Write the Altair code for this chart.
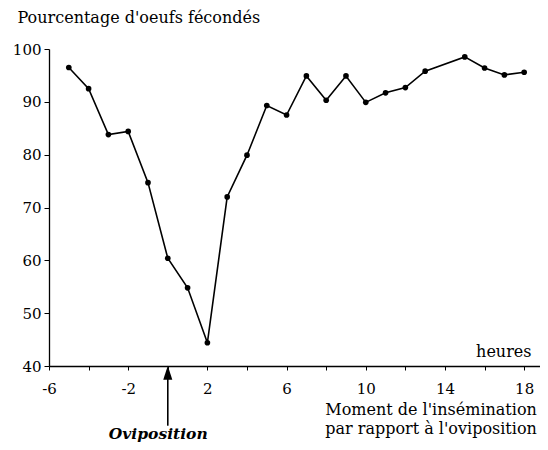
import altair as alt
import pandas as pd

hours = [-5, -4, -3, -2, -1, 0, 1, 2, 3, 4, 5, 6, 7, 8, 9, 10, 11, 12, 13, 15, 16, 17, 18]
pct = [96.5, 92.5, 83.8, 84.4, 74.7, 60.4, 54.8, 44.4, 72.0, 79.9, 89.3, 87.5,
       94.9, 90.3, 94.9, 89.9, 91.7, 92.7, 95.8, 98.5, 96.4, 95.1, 95.6]
x_ticks = list(range(-6, 19, 2))
y_ticks = [40, 50, 60, 70, 80, 90, 100]

FONT = "DejaVu Serif"
df = pd.DataFrame({"h": hours, "p": pct})

xs = alt.Scale(domain=[-6, 18.8], nice=False, zero=False)
ys = alt.Scale(domain=[40, 100], nice=False, zero=False)

base = alt.Chart(df)
line = base.mark_line(color="black", strokeWidth=1.6).encode(
    x=alt.X("h:Q", scale=xs, axis=alt.Axis(
        values=x_ticks, labelExpr="(datum.value + 6) % 4 == 0 ? toString(datum.value) : ''",
        title="heures", titleAngle=0, titleAlign="right", titleX=482, titleY=-10,
        titleBaseline="alphabetic", titleFontWeight="normal", titleFontSize=16,
        grid=False, domainColor="black", domainWidth=1.3, tickColor="black", tickSize=4,
        labelFontSize=15, labelColor="black", labelPadding=11, labelFlush=False)),
    y=alt.Y("p:Q", scale=ys, axis=alt.Axis(
        values=y_ticks, title="Pourcentage d'oeufs fécondés", titleAngle=0,
        titleAlign="left", titleX=-32, titleY=-27, titleBaseline="alphabetic",
        titleFontWeight="normal", titleFontSize=16,
        grid=False, domainColor="black", domainWidth=1.3, tickColor="black", tickSize=5,
        labelFontSize=15, labelColor="black", labelPadding=3)),
)
pts = base.mark_point(filled=True, color="black", size=32, opacity=1).encode(
    x=alt.X("h:Q", scale=xs), y=alt.Y("p:Q", scale=ys))

arrow_df = pd.DataFrame({"x": [0], "y1": [28.7], "y2": [38.5]})
shaft = alt.Chart(arrow_df).mark_rule(color="black", strokeWidth=1.6, clip=False).encode(
    x=alt.X("x:Q", scale=xs), y=alt.Y("y1:Q", scale=ys), y2="y2:Q")
head = alt.Chart(arrow_df).mark_point(
    shape="M0,-1L0.65,1L-0.65,1Z", filled=True, color="black", opacity=1,
    size=196, clip=False).encode(
    x=alt.X("x:Q", scale=xs), y=alt.datum(38.7, scale=ys))

ovi = alt.Chart(pd.DataFrame({"x": [-0.48], "y": [26.25], "t": ["Oviposition"]})).mark_text(
    font=FONT, fontSize=15.5, fontStyle="italic", fontWeight="bold", color="black",
    align="center", baseline="alphabetic", clip=False).encode(
    x=alt.X("x:Q", scale=xs), y=alt.Y("y:Q", scale=ys), text="t:N")

notes = alt.Chart(pd.DataFrame({
    "x": [18.64, 18.64], "y": [30.78, 27.13],
    "t": ["Moment de l'insémination", "par rapport à l'oviposition"]})).mark_text(
    font=FONT, fontSize=16, color="black", align="right", baseline="alphabetic",
    clip=False).encode(
    x=alt.X("x:Q", scale=xs), y=alt.Y("y:Q", scale=ys), text="t:N")

chart = alt.layer(line, pts, shaft, head, ovi, notes).properties(
    width=491, height=317,
    autosize=alt.AutoSizeParams(type="none"),
    padding={"left": 41, "top": 41, "right": 0, "bottom": 76},
).configure_view(stroke=None).configure_axis(
    labelFont=FONT, titleFont=FONT, titleColor="black"
).configure_text(font=FONT)

chart.save("out.html", embed_options={"renderer": "svg", "actions": False})
